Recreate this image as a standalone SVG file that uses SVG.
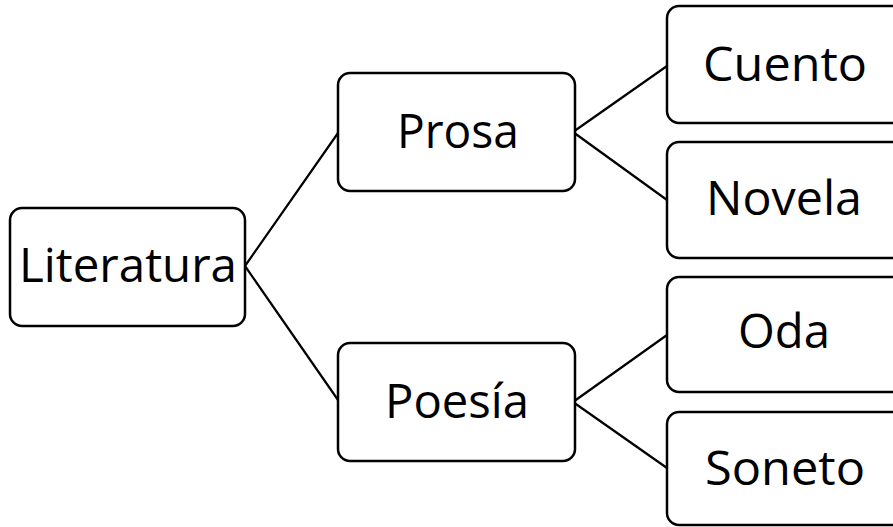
<svg xmlns="http://www.w3.org/2000/svg" width="893" height="527" viewBox="0 0 893 527">
<style>
.box{fill:#fff;stroke:#000;stroke-width:2.5}
.lbl{font-family:"Open Sans","Liberation Sans",sans-serif;font-size:47px;fill:#000}
.edge{stroke:#000;stroke-width:2.2;fill:none}
</style>
<rect width="893" height="527" fill="#fff"/>
<g id="connectors">
<path class="edge" d="M245,266 L338,133 M245,266 L338,400"/>
<path class="edge" d="M573,132 L667,66 M573,132 L667,200"/>
<path class="edge" d="M573,402 L667,335 M573,402 L667,468"/>
</g>
<g id="literatura"><rect class="box" x="10" y="208" width="235" height="118" rx="12"/><text class="lbl" x="19" y="282" textLength="218" lengthAdjust="spacingAndGlyphs">Literatura</text></g>
<g id="prosa"><rect class="box" x="338" y="73" width="237" height="118" rx="12"/><text class="lbl" x="397" y="148" textLength="122" lengthAdjust="spacingAndGlyphs">Prosa</text></g>
<g id="poesia"><rect class="box" x="338" y="343" width="237" height="118" rx="12"/><text class="lbl" x="385" y="418" textLength="144" lengthAdjust="spacingAndGlyphs">Poesía</text></g>
<g id="cuento"><rect class="box" x="667" y="6" width="260" height="117" rx="12"/><text class="lbl" x="703" y="81" textLength="164" lengthAdjust="spacingAndGlyphs">Cuento</text></g>
<g id="novela"><rect class="box" x="667" y="142" width="260" height="116" rx="12"/><text class="lbl" x="706" y="215" textLength="156" lengthAdjust="spacingAndGlyphs">Novela</text></g>
<g id="oda"><rect class="box" x="667" y="277" width="260" height="115" rx="12"/><text class="lbl" x="738" y="348" textLength="92" lengthAdjust="spacingAndGlyphs">Oda</text></g>
<g id="soneto"><rect class="box" x="667" y="412" width="260" height="113" rx="12"/><text class="lbl" x="705" y="485" textLength="160" lengthAdjust="spacingAndGlyphs">Soneto</text></g>
</svg>
